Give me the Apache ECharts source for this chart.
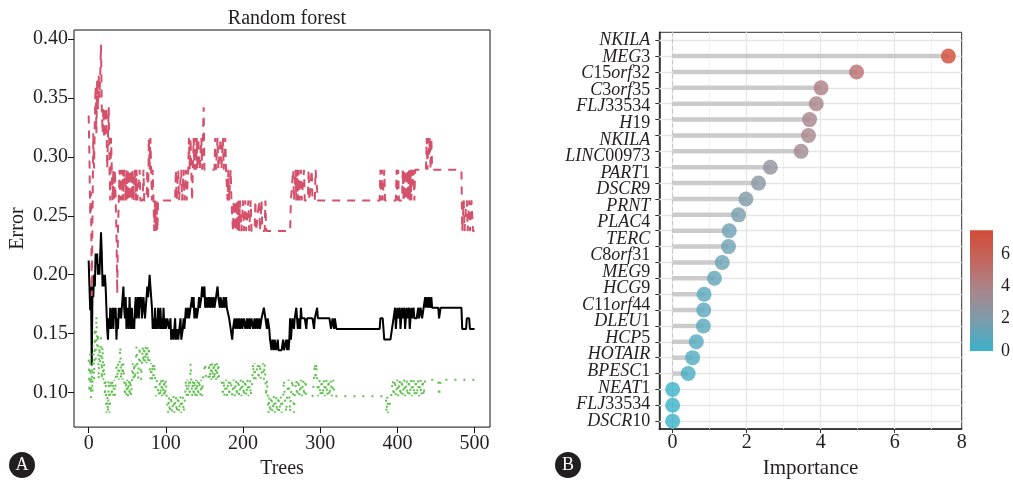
<!DOCTYPE html>
<html>
<head>
<meta charset="utf-8">
<script src="https://cdn.jsdelivr.net/npm/echarts@6/dist/echarts.min.js"></script>
<style>
  html, body { margin: 0; padding: 0; background: #fff; }
  #main { width: 1013px; height: 484px; }
</style>
</head>
<body>
<div id="main"></div>
<script>
// Panel A: OOB error by number of trees, [tree, error]
const oobError = [
  [0,0.212],[1,0.19],[2,0.17],[3,0.19],[4,0.123],[5,0.19],[6,0.181],[7,0.2],[8,0.19],[9,0.218],[10,0.209],[11,0.218],[12,0.2],[13,0.209],[14,0.2],[15,0.218],[16,0.236],[17,0.218],[18,0.19],[19,0.2],[20,0.19],[21,0.2],[22,0.19],[23,0.172],[24,0.154],[25,0.145],[26,0.163],[27,0.154],[28,0.172],[29,0.154],[30,0.163],[31,0.172],[32,0.154],[33,0.172],[34,0.163],[35,0.172],[36,0.145],[37,0.163],[38,0.154],[39,0.172],[40,0.163],[41,0.172],[42,0.163],[43,0.172],[44,0.181],[45,0.19],[46,0.172],[47,0.163],[48,0.181],[49,0.154],[50,0.172],[51,0.163],[52,0.154],[53,0.181],[54,0.163],[55,0.154],[56,0.172],[57,0.154],[58,0.163],[59,0.154],[60,0.172],[61,0.181],[62,0.163],[63,0.172],[64,0.181],[65,0.163],[66,0.181],[67,0.172],[68,0.181],[69,0.163],[70,0.172],[71,0.181],[72,0.172],[73,0.163],[74,0.172],[75,0.181],[76,0.19],[77,0.181],[78,0.19],[79,0.2],[80,0.19],[81,0.181],[82,0.172],[83,0.154],[84,0.163],[85,0.154],[86,0.172],[87,0.154],[88,0.163],[89,0.154],[90,0.172],[91,0.163],[92,0.154],[93,0.172],[94,0.154],[95,0.163],[96,0.154],[97,0.172],[98,0.154],[99,0.163],
  [100,0.154],[102,0.163],[104,0.154],[106,0.163],[107,0.145],[109,0.154],[110,0.145],[112,0.163],[113,0.145],[115,0.154],[116,0.145],[118,0.145],[119,0.163],[120,0.145],[122,0.154],[123,0.163],[124,0.154],[126,0.172],[127,0.163],[129,0.172],[130,0.163],[132,0.172],[134,0.181],[135,0.172],[136,0.181],[137,0.163],[139,0.172],[140,0.163],[142,0.172],[143,0.181],[144,0.172],[146,0.181],[147,0.19],[148,0.181],[150,0.19],[151,0.172],[153,0.181],[154,0.172],[156,0.181],[157,0.172],[159,0.181],[160,0.172],[162,0.181],[163,0.172],[165,0.181],[167,0.19],[168,0.181],[170,0.172],[171,0.181],[173,0.172],[175,0.181],[176,0.172],[178,0.181],[179,0.172],[181,0.172],[182,0.163],[184,0.154],[186,0.145],[187,0.154],[189,0.163],[190,0.154],[192,0.163],[193,0.154],[195,0.163],[196,0.154],[198,0.163],[199,0.154],
  [201,0.163],[203,0.154],[205,0.163],[206,0.154],[208,0.163],[209,0.154],[211,0.163],[213,0.154],[215,0.163],[216,0.154],[218,0.163],[219,0.154],[221,0.163],[222,0.154],[224,0.163],[227,0.172],[229,0.163],[231,0.154],[232,0.163],[234,0.154],[235,0.145],[237,0.136],[238,0.145],[240,0.136],[241,0.145],[243,0.136],[245,0.145],[246,0.136],[250,0.136],[252,0.145],[253,0.136],[255,0.136],[256,0.145],[257,0.136],[258,0.145],[259,0.136],[260,0.145],[261,0.163],[262,0.145],[263,0.154],[264,0.163],[266,0.154],[267,0.163],[269,0.172],[270,0.163],[271,0.154],[272,0.163],[274,0.154],[275,0.172],[276,0.163],[280,0.163],[282,0.154],[283,0.163],[290,0.163],[292,0.154],[293,0.163],[295,0.163],[296,0.172],[297,0.163],
  [312,0.163],[314,0.154],[316,0.163],[318,0.154],[319,0.163],[321,0.154],[377,0.154],[378,0.163],[381,0.163],[382,0.154],[383,0.145],[391,0.145],[393,0.154],[395,0.163],[397,0.172],[398,0.154],[400,0.172],[401,0.163],[403,0.172],[404,0.154],[406,0.172],[407,0.163],[409,0.172],[410,0.154],[412,0.172],[413,0.163],[415,0.172],[416,0.154],[418,0.172],[419,0.163],[421,0.172],[422,0.163],[425,0.163],[427,0.172],[428,0.163],[430,0.172],[432,0.163],[434,0.172],[436,0.181],[437,0.172],[438,0.181],[440,0.172],[441,0.181],[443,0.172],[444,0.181],[445,0.172],[453,0.172],[454,0.163],[456,0.172],[483,0.172],[484,0.154],[489,0.154],[490,0.163],[493,0.163],[494,0.154],[500,0.154]
];

// class 1 error (dashed)
const class1Error = [
  [0,0.335],[1,0.3],[2,0.25],[3,0.27],[4,0.182],[5,0.25],[6,0.32],[7,0.29],[8,0.33],[9,0.36],[10,0.32],[11,0.365],[12,0.34],[13,0.37],[14,0.35],[15,0.37],[16,0.395],[17,0.34],[18,0.32],[19,0.342],[20,0.316],[21,0.342],[22,0.316],[23,0.342],[24,0.29],[25,0.316],[26,0.342],[27,0.29],[28,0.263],[29,0.316],[30,0.289],[31,0.263],[32,0.289],[33,0.263],[34,0.289],[35,0.263],[36,0.237],[37,0.184],[38,0.237],[39,0.263],
  [40,0.289],[41,0.263],[42,0.289],[43,0.263],[44,0.289],[45,0.263],[46,0.289],[47,0.276],[48,0.263],[49,0.289],[50,0.263],[51,0.289],[52,0.263],[53,0.289],[54,0.263],[55,0.289],[56,0.263],[57,0.289],[58,0.263],[59,0.276],[60,0.289],[61,0.263],[62,0.289],[63,0.263],[65,0.263],[66,0.289],[67,0.263],[70,0.263],[71,0.289],[72,0.263],[75,0.263],[76,0.289],[77,0.263],[78,0.316],[79,0.289],[80,0.316],[81,0.289],[82,0.263],[83,0.289],[84,0.263],[85,0.237],[86,0.263],[87,0.237],[88,0.263],[89,0.237],[90,0.263],
  [112,0.263],[113,0.289],[114,0.263],[116,0.289],[117,0.263],[119,0.263],[120,0.289],[121,0.263],[123,0.289],[124,0.263],[126,0.289],[127,0.263],[129,0.289],[130,0.316],[131,0.289],[132,0.316],[133,0.289],[134,0.263],[135,0.289],[136,0.316],[137,0.289],[138,0.316],[139,0.289],[140,0.316],[141,0.289],[142,0.316],[144,0.289],[146,0.316],[147,0.289],[148,0.316],[149,0.342],[150,0.289],[163,0.289],[164,0.316],[165,0.289],[167,0.316],[168,0.289],[170,0.289],[171,0.316],[172,0.289],[174,0.316],[175,0.289],[177,0.316],[178,0.289],
  [180,0.263],[181,0.289],[182,0.263],[184,0.289],[185,0.263],[187,0.237],[188,0.263],[189,0.237],[190,0.263],[191,0.237],[192,0.263],[193,0.237],[194,0.263],[195,0.237],[196,0.263],[198,0.237],[200,0.263],[201,0.237],[203,0.263],[204,0.237],[206,0.237],[207,0.263],[208,0.237],[210,0.263],[211,0.237],[213,0.237],[215,0.237],[216,0.263],[217,0.237],[219,0.237],[221,0.263],[222,0.237],[224,0.263],[225,0.237],[228,0.237],[229,0.263],[230,0.237],[233,0.237],[261,0.237],
  [262,0.263],[264,0.263],[265,0.289],[266,0.263],[268,0.289],[269,0.263],[270,0.289],[271,0.263],[272,0.289],[273,0.263],[275,0.289],[276,0.263],[278,0.263],[279,0.289],[280,0.263],[284,0.263],[285,0.289],[286,0.263],[289,0.289],[290,0.263],[293,0.263],[294,0.289],[296,0.289],[297,0.263],[377,0.263],[378,0.289],[379,0.263],[380,0.289],[381,0.263],[383,0.289],[384,0.263],[398,0.263],[399,0.289],[400,0.263],[401,0.289],[402,0.263],
  [406,0.263],[407,0.289],[408,0.263],[409,0.289],[410,0.263],[411,0.289],[412,0.263],[413,0.289],[414,0.263],[415,0.289],[416,0.263],[417,0.289],[418,0.263],[419,0.289],[420,0.276],[421,0.289],[422,0.263],[423,0.289],[437,0.289],[438,0.316],[439,0.289],[440,0.316],[441,0.302],[442,0.316],[443,0.289],[444,0.316],[445,0.289],[483,0.289],[484,0.237],[486,0.263],[487,0.237],[488,0.25],[490,0.263],[491,0.237],[493,0.263],[494,0.237],[496,0.263],[498,0.237],[500,0.237]
];

// class 2 error (dotted)
const class2Error = [
  [0,0.128],[1,0.1],[2,0.133],[3,0.095],[4,0.12],[5,0.1],[6,0.14],[7,0.111],[8,0.155],[9,0.125],[10,0.165],[11,0.139],[12,0.15],[13,0.111],[14,0.139],[15,0.125],[16,0.15],[17,0.111],[18,0.139],[19,0.111],[20,0.125],[21,0.097],[22,0.111],[23,0.083],[24,0.097],[25,0.083],[26,0.111],[27,0.083],[28,0.097],[29,0.111],[30,0.097],[31,0.111],[32,0.097],[33,0.111],[34,0.097],[35,0.111],[36,0.125],[37,0.111],[38,0.125],[39,0.111],[40,0.125],[41,0.139],[42,0.111],[43,0.125],[44,0.111],[45,0.125],[46,0.111],[47,0.097],[48,0.111],[49,0.097],[50,0.111],[51,0.097],[52,0.111],[53,0.097],[54,0.111],[55,0.097],[56,0.111],[57,0.125],[58,0.111],[59,0.125],[60,0.111],[61,0.125],[62,0.139],[63,0.125],[64,0.111],[65,0.125],[66,0.139],[67,0.125],[68,0.111],[69,0.125],[70,0.139],[71,0.125],[72,0.139],[73,0.125],[74,0.139],[75,0.125],[76,0.139],[77,0.125],[78,0.139],[79,0.125],[80,0.111],[81,0.125],[82,0.111],[83,0.125],[84,0.111],[85,0.125],[86,0.111],[87,0.097],[88,0.111],
  [90,0.111],[91,0.097],[92,0.111],[93,0.097],[94,0.111],[95,0.097],[96,0.111],[97,0.097],[98,0.111],[99,0.097],[100,0.111],[101,0.097],[103,0.083],[104,0.097],[105,0.083],[107,0.097],[108,0.083],[110,0.097],[111,0.083],[113,0.097],[114,0.083],[116,0.097],[117,0.083],[119,0.097],[120,0.083],[122,0.097],[123,0.083],[125,0.097],[126,0.111],[127,0.097],[128,0.111],[129,0.097],[130,0.111],[131,0.097],[132,0.125],[133,0.111],[134,0.097],[135,0.111],[136,0.097],[137,0.111],[138,0.097],[139,0.111],[140,0.097],[141,0.111],[142,0.097],[143,0.111],[145,0.097],[146,0.111],[147,0.097],[148,0.111],[150,0.111],[151,0.125],[152,0.111],[155,0.111],[156,0.125],[157,0.111],[158,0.125],[159,0.111],[160,0.125],[161,0.111],[162,0.125],[163,0.111],[164,0.125],[165,0.111],[166,0.125],[167,0.111],[168,0.125],[169,0.111],[172,0.111],[174,0.097],[175,0.111],[176,0.097],[178,0.111],[179,0.097],[181,0.111],[182,0.097],[184,0.111],[186,0.097],[188,0.111],[189,0.097],[191,0.111],[192,0.097],[194,0.111],[195,0.097],[197,0.111],[198,0.097],
  [200,0.111],[201,0.097],[203,0.111],[204,0.097],[206,0.111],[207,0.097],[209,0.111],[210,0.097],[212,0.111],[213,0.125],[214,0.111],[215,0.125],[216,0.111],[218,0.111],[219,0.125],[220,0.111],[222,0.125],[223,0.111],[225,0.111],[226,0.125],[227,0.111],[228,0.125],[229,0.111],[230,0.097],[231,0.111],[232,0.097],[233,0.083],[234,0.097],[235,0.083],[237,0.097],[238,0.083],[240,0.097],[241,0.083],[243,0.097],[244,0.083],[246,0.097],[247,0.083],[249,0.097],[250,0.083],[252,0.097],[253,0.111],[254,0.097],[256,0.083],[257,0.097],[259,0.111],[260,0.097],[261,0.083],[262,0.097],[264,0.111],[265,0.097],[266,0.083],[267,0.097],[269,0.111],[270,0.097],[272,0.111],[273,0.097],[275,0.111],[276,0.097],[278,0.111],[279,0.097],[281,0.111],[282,0.097],[290,0.097],[292,0.111],[293,0.125],[294,0.111],[295,0.125],[296,0.111],[297,0.097],[299,0.111],
  [300,0.097],[302,0.111],[303,0.097],[305,0.111],[306,0.097],[308,0.111],[309,0.097],[311,0.111],[312,0.097],[314,0.111],[315,0.097],[317,0.111],[318,0.097],[385,0.097],[386,0.083],[387,0.097],[388,0.083],[390,0.083],[392,0.097],[394,0.111],[395,0.097],[397,0.111],[398,0.097],[400,0.111],[401,0.097],[403,0.111],[404,0.097],[406,0.111],[407,0.097],[409,0.111],[410,0.097],[412,0.111],[413,0.097],[415,0.111],[416,0.097],[418,0.111],[419,0.097],[421,0.111],[422,0.097],[424,0.111],[425,0.097],[427,0.111],[428,0.097],[430,0.111],[431,0.097],[433,0.111],[434,0.097],[436,0.111],[453,0.111],[454,0.097],[456,0.111],[500,0.111]
];

const treeTicks = [0, 100, 200, 300, 400, 500];
const errorTicks = [0.10, 0.15, 0.20, 0.25, 0.30, 0.35, 0.40];

// Panel B: variable importance
const geneLabels = ["NKILA", "MEG3", "C15orf32", "C3orf35", "FLJ33534", "H19", "NKILA", "LINC00973",
  "PART1", "DSCR9", "PRNT", "PLAC4", "TERC", "C8orf31", "MEG9", "HCG9", "C11orf44", "DLEU1",
  "HCP5", "HOTAIR", "BPESC1", "NEAT1", "FLJ33534", "DSCR10"];
// plotted rows, top to bottom (top row is empty in the figure)
const importance = [null, 7.45, 4.97, 4.01, 3.88, 3.70, 3.67, 3.47, 2.64, 2.32, 1.98, 1.78, 1.53,
  1.51, 1.34, 1.13, 0.85, 0.84, 0.83, 0.64, 0.54, 0.42, 0, 0, 0];
const importanceTicks = [0, 2, 4, 6];
const importanceMinor = [1, 3, 5, 7];
const legendTicks = [0, 2, 4, 6];
const palette = ["#3AB1CB", "#7B9CAB", "#A8858C", "#C3675F", "#D24B37"];

const serif = "Liberation Serif";
const ink = "#231F20";
const maxImp = Math.max(...importance.filter(v => v !== null));
const rowKeys = importance.map((v, i) => "r" + i);

const chart = echarts.init(document.getElementById("main"));

function geneFormatter(name) {
  return name.split(/(\d+)/).filter(s => s.length).map(s =>
    /^\d/.test(s) ? "{n|" + s + "}" : "{i|" + s + "}").join("");
}

chart.setOption({
  animation: false,
  title: {
    text: "Random forest", left: 282, top: 4, textAlign: "center",
    textStyle: { fontFamily: serif, fontSize: 20, fontWeight: "normal", color: ink }
  },
  grid: [
    { left: 74, right: 523, top: 30, bottom: 52.3, show: true, borderColor: "#111", borderWidth: 1 },
    { left: 659.3, right: 51.3, top: 32.3, bottom: 52.3, show: true, borderColor: "#333", borderWidth: 1 },
    { left: 970, width: 25, top: 230.3, height: 120.7 }
  ],
  visualMap: {
    type: "continuous", show: false, seriesIndex: 5, dimension: 0,
    min: 0, max: maxImp, inRange: { color: palette }
  },
  xAxis: [
    {
      gridIndex: 0, type: "value", min: -19, max: 520,
      name: "Trees", nameLocation: "middle", nameGap: 28,
      nameTextStyle: { fontFamily: serif, fontSize: 20, color: ink },
      axisLine: { show: false, onZero: false },
      axisTick: { show: true, customValues: treeTicks, length: 6, lineStyle: { color: "#111" } },
      axisLabel: { customValues: treeTicks, margin: 7, fontFamily: serif, fontSize: 20, color: ink },
      splitLine: { show: false }
    },
    {
      gridIndex: 1, type: "value", min: -0.36, max: 7.81,
      name: "Importance", nameLocation: "middle", nameGap: 26,
      nameTextStyle: { fontFamily: serif, fontSize: 21, color: ink },
      axisLine: { show: true, onZero: false, lineStyle: { color: "#222", width: 1.5 } },
      axisTick: { show: true, customValues: importanceTicks, length: 4, lineStyle: { color: "#333" } },
      axisLabel: {
        customValues: importanceTicks.concat([7.81]), margin: 4, fontFamily: serif, fontSize: 20, color: ink,
        formatter: v => String(Math.round(v))
      },
      splitLine: { show: false }
    },
    { gridIndex: 2, type: "category", data: ["c"], show: false }
  ],
  yAxis: [
    {
      gridIndex: 0, type: "value", min: 0.0708, max: 0.4075,
      name: "Error", nameLocation: "middle", nameGap: 46, nameRotate: 90,
      nameTextStyle: { fontFamily: serif, fontSize: 20, color: ink },
      axisLine: { show: false, onZero: false },
      axisTick: { show: true, customValues: errorTicks, length: 6, lineStyle: { color: "#111" } },
      axisLabel: {
        customValues: errorTicks, margin: 6, fontFamily: serif, fontSize: 20, color: ink,
        formatter: v => v.toFixed(2)
      },
      splitLine: { show: false }
    },
    {
      gridIndex: 1, type: "category", data: rowKeys, inverse: true, position: "left",
      axisLine: { show: true, onZero: false, lineStyle: { color: "#222", width: 1.5 } },
      axisTick: { show: true, alignWithLabel: true, length: 4, lineStyle: { color: "#333" } },
      axisLabel: { show: false },
      splitLine: { show: false }
    },
    {
      gridIndex: 1, type: "category", data: geneLabels, inverse: true, position: "left",
      axisLine: { show: false }, axisTick: { show: false }, splitLine: { show: false },
      axisLabel: {
        margin: 9, interval: 0, showMinLabel: true, showMaxLabel: true, hideOverlap: false,
        formatter: geneFormatter,
        rich: {
          i: { fontFamily: serif, fontSize: 18, fontStyle: "italic", color: ink },
          n: { fontFamily: serif, fontSize: 18, color: ink }
        }
      }
    },
    {
      gridIndex: 2, type: "value", min: 0, max: maxImp, position: "right",
      axisLine: { show: false },
      axisTick: { show: true, inside: true, customValues: legendTicks, length: 5, lineStyle: { color: "rgba(255,255,255,0.8)" } },
      axisLabel: { customValues: legendTicks, margin: 8, fontFamily: serif, fontSize: 18, color: ink },
      splitLine: { show: false }
    },
    {
      gridIndex: 2, type: "value", min: 0, max: maxImp, position: "left",
      axisLine: { show: false },
      axisTick: { show: true, inside: true, customValues: legendTicks, length: 5, lineStyle: { color: "rgba(255,255,255,0.8)" } },
      axisLabel: { show: false },
      splitLine: { show: false }
    }
  ],
  series: [
    {
      name: "OOB", type: "line", xAxisIndex: 0, yAxisIndex: 0, data: oobError,
      showSymbol: false, lineStyle: { color: "#000", width: 2 }, z: 3
    },
    {
      name: "1", type: "line", xAxisIndex: 0, yAxisIndex: 0, data: class1Error,
      showSymbol: false, lineStyle: { color: "#D5506B", width: 2, type: [8, 7] }, z: 4
    },
    {
      name: "2", type: "line", xAxisIndex: 0, yAxisIndex: 0, data: class2Error,
      showSymbol: false, lineStyle: { color: "#5FC24E", width: 2, type: [2, 7] }, z: 5
    },
    {
      // panel grid lines
      type: "scatter", xAxisIndex: 1, yAxisIndex: 1, data: [], silent: true,
      markLine: {
        silent: true, symbol: "none", label: { show: false }, animation: false, z: 1,
        data: [
          ...importanceMinor.map(v => ({ xAxis: v, lineStyle: { color: "#EDEDED", width: 0.8, type: "solid" } })),
          ...importanceTicks.map(v => ({ xAxis: v, lineStyle: { color: "#E6E6E6", width: 1.3, type: "solid" } })),
          ...rowKeys.map((k, i) => ({ yAxis: i, lineStyle: { color: "#E6E6E6", width: 1.3, type: "solid" } })),
          { xAxis: 0, lineStyle: { color: "#C4C4C4", width: 1, type: [4, 3] } }
        ]
      }
    },
    {
      // lollipop sticks
      type: "bar", xAxisIndex: 1, yAxisIndex: 1, data: importance, barWidth: 4.5,
      itemStyle: { color: "#CBCBCB" }, z: 2, silent: true
    },
    {
      type: "scatter", xAxisIndex: 1, yAxisIndex: 1, z: 3, symbolSize: 15,
      data: importance.map((v, i) => v === null ? null : [v, i]).filter(d => d)
    },
    {
      // colour bar
      type: "bar", xAxisIndex: 2, yAxisIndex: 3, data: [maxImp], barWidth: "100%", silent: true,
      itemStyle: {
        color: new echarts.graphic.LinearGradient(0, 1, 0, 0,
          palette.map((c, i) => ({ offset: i / (palette.length - 1), color: c })))
      }
    }
  ],
  graphic: [
    { type: "circle", shape: { cx: 22, cy: 465, r: 13 }, style: { fill: ink } },
    { type: "text", x: 22, y: 465, style: { text: "A", fill: "#fff", font: "18px 'Liberation Serif'", align: "center", verticalAlign: "middle" } },
    { type: "circle", shape: { cx: 568, cy: 465, r: 13 }, style: { fill: ink } },
    { type: "text", x: 568, y: 465, style: { text: "B", fill: "#fff", font: "18px 'Liberation Serif'", align: "center", verticalAlign: "middle" } }
  ]
});
</script>
</body>
</html>
